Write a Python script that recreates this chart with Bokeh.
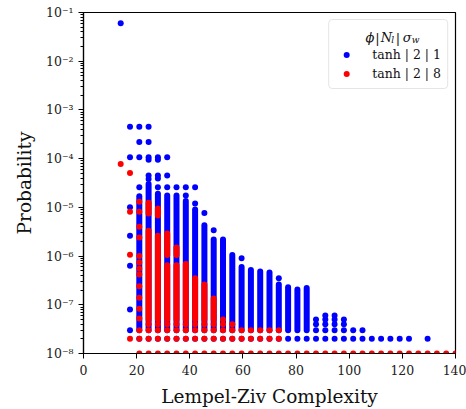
from bokeh.plotting import figure
from bokeh.models import (Range1d, FixedTicker, CustomJSTickFormatter, Legend,
                          LegendItem, Label, ColumnDataSource)
from bokeh.embed import file_html
from bokeh.resources import INLINE

# ---------------- data ----------------
# blue series (tanh | 2 | 1): isolated dots, column by column
BLUE_COLS = [14, 17.5, 21, 24.5, 28, 31.5, 35, 38.5, 42, 45.5, 49, 59.5, 73.5]
BLUE_COL_PROBS = [
    [6e-2],
    [4.5e-4, 1.07e-4, 1.0e-5, 2.6e-6, 6.3e-7, 8e-8, 3e-8],
    [4.5e-4, 2.2e-4, 1.07e-4, 2.6e-5],
    [4.5e-4, 2.2e-4, 1.07e-4, 9.5e-5, 4.5e-5, 3.8e-5],
    [1.07e-4, 9.5e-5, 4.5e-5, 3.9e-5, 2.6e-5],
    [1.07e-4, 4.5e-5, 2.6e-5],
    [2.6e-5],
    [2.6e-5, 1.75e-5],
    [2.6e-5, 1.2e-5],
    [7.7e-6],
    [3.4e-6],
    [9e-7],
    [3.5e-7],
]
# blue low-count rows: probability level and the columns where it shows
BLUE_ROW_P = [2e-8, 3e-8, 4e-8, 5e-8, 6e-8]
BLUE_ROW_X = [
    [21, 24.5, 28, 31.5, 35, 38.5, 42, 45.5, 49, 52.5, 56, 59.5, 63, 66.5, 70,
     73.5, 77, 80.5, 84, 87.5, 91, 94.5, 98, 101.5, 105, 108.5, 112, 115.5,
     119, 122.5, 129.5],
    [87.5, 91, 94.5, 98, 101.5, 105],
    [87.5, 91, 94.5, 98],
    [87.5, 91, 94.5, 98],
    [91, 94.5],
]
# blue dense columns (many count levels merge into a bar)
BLUE_BAR_X = [21, 24.5, 28, 31.5, 35, 38.5, 42, 45.5, 49, 52.5, 56, 59.5, 63,
              66.5, 70, 73.5, 77, 80.5, 84]
BLUE_BAR_LO = [3e-8] * 19
BLUE_BAR_HI = [1.7e-5, 3.0e-5, 1.9e-5, 1.75e-5, 1.75e-5, 1.35e-5, 9e-6, 4.3e-6,
               2.2e-6, 2.2e-6, 1.05e-6, 6e-7, 5.2e-7, 4.8e-7, 4.6e-7, 2.6e-7,
               2.3e-7, 2.05e-7, 2.2e-7]

# red series (tanh | 2 | 8): isolated dots, column by column
RED_COLS = [14, 17.5, 21, 52.5]
RED_COL_PROBS = [
    [7.8e-5],
    [5.1e-5, 8.1e-6, 1.06e-6],
    [1.3e-5, 8.1e-6, 4e-6, 2.4e-6, 1e-6, 7.4e-7, 5.5e-7, 4.2e-7, 2.4e-7,
     1.4e-7, 8.3e-8, 5.2e-8],
    [5e-8],
]
RED_ROW_P = [1e-8, 2e-8, 3e-8, 4e-8]
RED_ROW_X = [
    [21, 24.5, 28, 31.5, 35, 38.5, 42, 45.5, 49, 52.5, 56, 59.5, 63, 66.5, 70,
     73.5, 77, 80.5, 84, 87.5, 91, 94.5, 98, 101.5, 105, 108.5, 112, 115.5,
     119, 122.5, 126, 129.5, 133, 136.5, 140],
    [17.5, 21, 24.5, 28, 31.5, 35, 38.5, 42, 45.5, 49, 52.5, 56, 59.5, 63,
     66.5, 70, 73.5],
    [21, 24.5, 28, 31.5, 35, 38.5, 42, 45.5, 49, 52.5, 56, 59.5, 63, 66.5, 70,
     73.5],
    [24.5, 28, 31.5, 35, 38.5, 42, 45.5, 49, 52.5, 56],
]
RED_BAR_X = [24.5, 24.5, 28, 28, 31.5, 31.5, 35, 35, 38.5, 42, 45.5, 49]
RED_BAR_LO = [5e-8, 7.5e-6, 5e-8, 6.8e-6, 5e-8, 1.05e-6, 5e-8, 1.05e-6, 5e-8,
              5e-8, 5e-8, 5e-8]
RED_BAR_HI = [3.3e-6, 1.25e-5, 2.6e-6, 9.5e-6, 6.5e-7, 2.9e-6, 6.5e-7, 1.5e-6,
              6.9e-7, 3.5e-7, 2.6e-7, 1.35e-7]

X_TICKS = [0, 20, 40, 60, 80, 100, 120, 140]
Y_TICKS = [1e-8, 1e-7, 1e-6, 1e-5, 1e-4, 1e-3, 1e-2, 1e-1]
LEGEND_LABELS = ["tanh | 2 | 1", "tanh | 2 | 8"]
X_LABEL = "Lempel-Ziv Complexity"
Y_LABEL = "Probability"


def flatten(cols, probs):
    xs, ys = [], []
    for x, ps in zip(cols, probs):
        for pv in ps:
            xs.append(x)
            ys.append(pv)
    return xs, ys


def flatten_rows(levels, rows):
    xs, ys = [], []
    for pv, row in zip(levels, rows):
        for x in row:
            xs.append(x)
            ys.append(pv)
    return xs, ys


BLUE = "#0000ff"
RED = "#ff0000"
SERIF = "DejaVu Serif"
DOT = 6

# frame geometry (pixels)
FL, FT, FW, FH = 83, 12, 372, 341


def dx(px):
    return (px - FL) / FW * 140


def dy(py):
    return 10 ** (-1 - (py - FT) / FH * 7)


p = figure(width=466, height=409, frame_width=FW, frame_height=FH,
           y_axis_type="log", x_range=Range1d(0, 140),
           y_range=Range1d(1e-8, 1e-1), output_backend="svg",
           toolbar_location=None, min_border_left=FL, min_border_right=11,
           min_border_top=FT, min_border_bottom=56)
p.grid.visible = False
p.outline_line_color = "black"
p.outline_line_width = 1.2
p.background_fill_color = "white"
p.border_fill_color = "white"

# blue series
p.segment(x0=BLUE_BAR_X, y0=BLUE_BAR_LO, x1=BLUE_BAR_X, y1=BLUE_BAR_HI,
          line_color=BLUE, line_width=DOT, line_cap="round")
bx1, by1 = flatten(BLUE_COLS, BLUE_COL_PROBS)
bx2, by2 = flatten_rows(BLUE_ROW_P, BLUE_ROW_X)
blue_src = ColumnDataSource(dict(x=bx1 + bx2, y=by1 + by2))
blue_r = p.scatter("x", "y", source=blue_src, size=DOT, marker="circle",
                   fill_color=BLUE, line_color=None)

# red series (drawn on top)
p.segment(x0=RED_BAR_X, y0=RED_BAR_LO, x1=RED_BAR_X, y1=RED_BAR_HI,
          line_color=RED, line_width=DOT, line_cap="round")
rx1, ry1 = flatten(RED_COLS, RED_COL_PROBS)
rx2, ry2 = flatten_rows(RED_ROW_P, RED_ROW_X)
red_src = ColumnDataSource(dict(x=rx1 + rx2, y=ry1 + ry2))
red_r = p.scatter("x", "y", source=red_src, size=DOT, marker="circle",
                  fill_color=RED, line_color=None)

# axes
p.xaxis.ticker = FixedTicker(ticks=X_TICKS)
minor = [m * t for t in Y_TICKS[:-1] for m in range(2, 10)]
p.yaxis.ticker = FixedTicker(ticks=Y_TICKS, minor_ticks=minor)
p.yaxis.formatter = CustomJSTickFormatter(code="""
const sup = {"-": "\\u207b", "0": "\\u2070", "1": "\\u00b9", "2": "\\u00b2",
             "3": "\\u00b3", "4": "\\u2074", "5": "\\u2075", "6": "\\u2076",
             "7": "\\u2077", "8": "\\u2078", "9": "\\u2079"};
const e = Math.round(Math.log10(tick));
return "10" + String(e).split("").map(c => sup[c]).join("");
""")
for ax in (p.xaxis[0], p.yaxis[0]):
    ax.axis_line_color = "black"
    ax.axis_line_width = 1.2
    ax.major_tick_line_color = "black"
    ax.minor_tick_line_color = "black"
    ax.major_tick_out = 5
    ax.major_tick_in = 0
    ax.minor_tick_out = 3
    ax.minor_tick_in = 0
    ax.major_label_text_font = SERIF
    ax.major_label_text_font_size = "12.5px"
    ax.major_label_text_color = "#222222"
    ax.axis_label_text_font = SERIF
    ax.axis_label_text_font_style = "normal"
    ax.axis_label_text_font_size = "18.5px"
    ax.axis_label_text_color = "#111111"
p.xaxis.minor_tick_line_color = None
p.xaxis.major_label_standoff = 6
p.yaxis.major_label_standoff = 5
p.xaxis.axis_label = X_LABEL
p.yaxis.axis_label = Y_LABEL
p.xaxis.axis_label_standoff = 8
p.yaxis.axis_label_standoff = 8

# legend: transparent fill so that the composed title below shows through
legend = Legend(items=[LegendItem(label=LEGEND_LABELS[0], renderers=[blue_r]),
                       LegendItem(label=LEGEND_LABELS[1], renderers=[red_r])],
                location="top_right", margin=7, padding=6, spacing=2,
                label_standoff=15, glyph_width=22, glyph_height=15,
                label_height=17, label_text_font=SERIF,
                label_text_font_size="12.5px", label_text_color="#111111",
                border_line_color="#cccccc", border_line_width=1,
                background_fill_alpha=0.0, title="\u2003",
                title_text_font_size="13px", title_standoff=5)
if "border_radius" in Legend.properties():
    legend.border_radius = 4
p.add_layout(legend)

TITLE_PIECES = [("\u03d5", 369.5, 37, "13px", "italic"),
                ("|", 377, 38, "13px", "normal"),
                ("N", 386, 37, "13px", "italic"),
                ("l", 392.3, 39.5, "9px", "italic"),
                ("|", 397.5, 38, "13px", "normal"),
                ("\u03c3", 406.7, 37, "13px", "italic"),
                ("w", 415, 39.5, "9px", "italic")]
for txt, px, py, fs, st in TITLE_PIECES:
    p.add_layout(Label(x=dx(px), y=dy(py), text=txt, text_align="center",
                       text_baseline="alphabetic", text_font=SERIF,
                       text_font_size=fs, text_font_style=st,
                       text_color="#111111"))

with open("out.html", "w", encoding="utf-8") as f:
    f.write(file_html(p, INLINE))
